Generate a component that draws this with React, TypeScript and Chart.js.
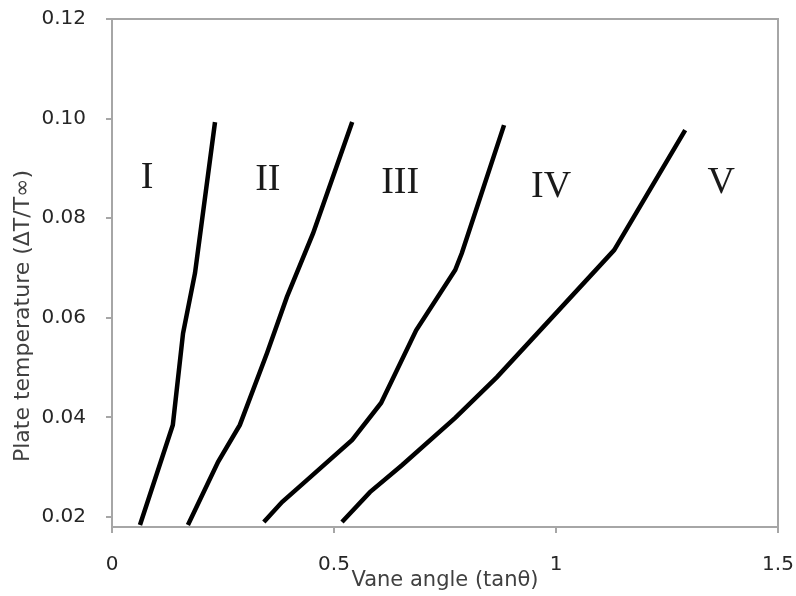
import React, { useEffect, useRef } from "react";
import { Chart, registerables } from "chart.js";

Chart.register(...registerables);

// Curve I
const curve1X = [0.063, 0.137, 0.160, 0.187, 0.232];
const curve1Y = [0.0184, 0.0385, 0.0569, 0.069, 0.0993];
// Curve II
const curve2X = [0.171, 0.239, 0.288, 0.349, 0.394, 0.453, 0.541];
const curve2Y = [0.0184, 0.0311, 0.0385, 0.0529, 0.0642, 0.077, 0.0993];
// Curve III
const curve3X = [0.342, 0.383, 0.439, 0.541, 0.606, 0.685, 0.773, 0.788, 0.883];
const curve3Y = [0.019, 0.023, 0.0274, 0.0355, 0.0429, 0.0575, 0.0696, 0.073, 0.0987];
// Curve IV
const curve4X = [0.518, 0.581, 0.653, 0.773, 0.867, 1.011, 1.131, 1.291];
const curve4Y = [0.019, 0.025, 0.0304, 0.0399, 0.0481, 0.062, 0.0736, 0.0977];

// Region labels
const regionLabels = ["I", "II", "III", "IV", "V"];
const regionX = [0.079, 0.351, 0.649, 0.989, 1.372];
const regionY = [0.088, 0.0877, 0.0871, 0.0863, 0.0871];

const yTicks = [0.02, 0.04, 0.06, 0.08, 0.1, 0.12];
const xTicks = [0, 0.5, 1, 1.5];
const xTickLabels = ["0", "0.5", "1", "1.5"];

const xTitle = "Vane angle (tanθ)";
const yTitle = "Plate temperature (ΔT/T∞)";

const toPts = (xs: number[], ys: number[]) => xs.map((x, i) => ({ x, y: ys[i] }));

export default function App() {
  const ref = useRef<HTMLCanvasElement | null>(null);

  useEffect(() => {
    document.body.style.margin = "0";
    document.body.style.overflow = "hidden";
    const canvas = ref.current;
    if (!canvas) return;

    const AXIS = "#a6a6a6";
    const TEXT = "#262626";

    const decor = {
      id: "decor",
      afterDatasetsDraw(chart: any) {
        const { ctx, chartArea, scales } = chart;
        ctx.save();
        // border top & right
        ctx.strokeStyle = AXIS;
        ctx.lineWidth = 2;
        ctx.beginPath();
        ctx.moveTo(chartArea.left, chartArea.top);
        ctx.lineTo(chartArea.right, chartArea.top);
        ctx.lineTo(chartArea.right, chartArea.bottom);
        ctx.stroke();
        // region labels
        ctx.fillStyle = "#1a1a1a";
        ctx.font = '38px "Liberation Serif"';
        ctx.textAlign = "center";
        ctx.textBaseline = "middle";
        regionLabels.forEach((t, i) => {
          ctx.fillText(t, scales.x.getPixelForValue(regionX[i]), scales.y.getPixelForValue(regionY[i]));
        });
        // y title
        ctx.fillStyle = "#404040";
        ctx.font = '22px "DejaVu Sans"';
        ctx.translate(23, 316);
        ctx.rotate(-Math.PI / 2);
        ctx.fillText(yTitle, 0, 0);
        ctx.restore();
      },
    };

    const lineDs = (xs: number[], ys: number[]) => ({
      data: toPts(xs, ys),
      showLine: true,
      borderColor: "#000",
      backgroundColor: "#000",
      borderWidth: 4.5,
      pointRadius: 0,
      tension: 0,
    });

    const chart = new Chart(canvas, {
      type: "scatter",
      data: {
        datasets: [
          lineDs(curve1X, curve1Y),
          lineDs(curve2X, curve2Y),
          lineDs(curve3X, curve3Y),
          lineDs(curve4X, curve4Y),
        ],
      },
      options: {
        animation: false,
        responsive: false,
        maintainAspectRatio: false,
        layout: { padding: { top: 19, right: 18, left: 0, bottom: 0 } },
        plugins: {
          legend: { display: false },
          tooltip: { enabled: false },
        },
        scales: {
          x: {
            type: "linear",
            min: 0,
            max: 1.5,
            afterBuildTicks: (s: any) => {
              s.ticks = xTicks.map((v) => ({ value: v }));
            },
            afterFit: (s: any) => {
              s.height = 69;
              s.paddingLeft = 0;
              s.paddingRight = 0;
            },
            ticks: {
              color: TEXT,
              font: { family: "DejaVu Sans", size: 20 },
              padding: 20,
              maxRotation: 0,
              callback: (v: any) => {
                const i = xTicks.indexOf(Number(v));
                return i >= 0 ? xTickLabels[i] : "";
              },
            },
            grid: { drawOnChartArea: false, drawTicks: true, tickLength: 6, color: AXIS, lineWidth: 2 },
            border: { display: true, color: AXIS, width: 2 },
            title: {
              display: true,
              text: xTitle,
              color: "#404040",
              font: { family: "DejaVu Sans", size: 21 },
              padding: { top: 0, bottom: 3 },
            },
          },
          y: {
            type: "linear",
            min: 0.018,
            max: 0.12,
            afterBuildTicks: (s: any) => {
              s.ticks = yTicks.map((v) => ({ value: v }));
            },
            afterFit: (s: any) => {
              s.width = 112;
              s.paddingTop = 0;
              s.paddingBottom = 0;
            },
            ticks: {
              color: TEXT,
              font: { family: "DejaVu Sans", size: 20 },
              padding: 20,
              callback: (v: any) => Number(v).toFixed(2),
            },
            grid: { drawOnChartArea: false, drawTicks: true, tickLength: 6, color: AXIS, lineWidth: 2 },
            border: { display: true, color: AXIS, width: 2 },
          },
        },
      },
      plugins: [decor],
    });

    return () => chart.destroy();
  }, []);

  return (
    <div style={{ width: 796, height: 596, background: "#fff" }}>
      <canvas ref={ref} width={796} height={596} style={{ display: "block" }} />
    </div>
  );
}
